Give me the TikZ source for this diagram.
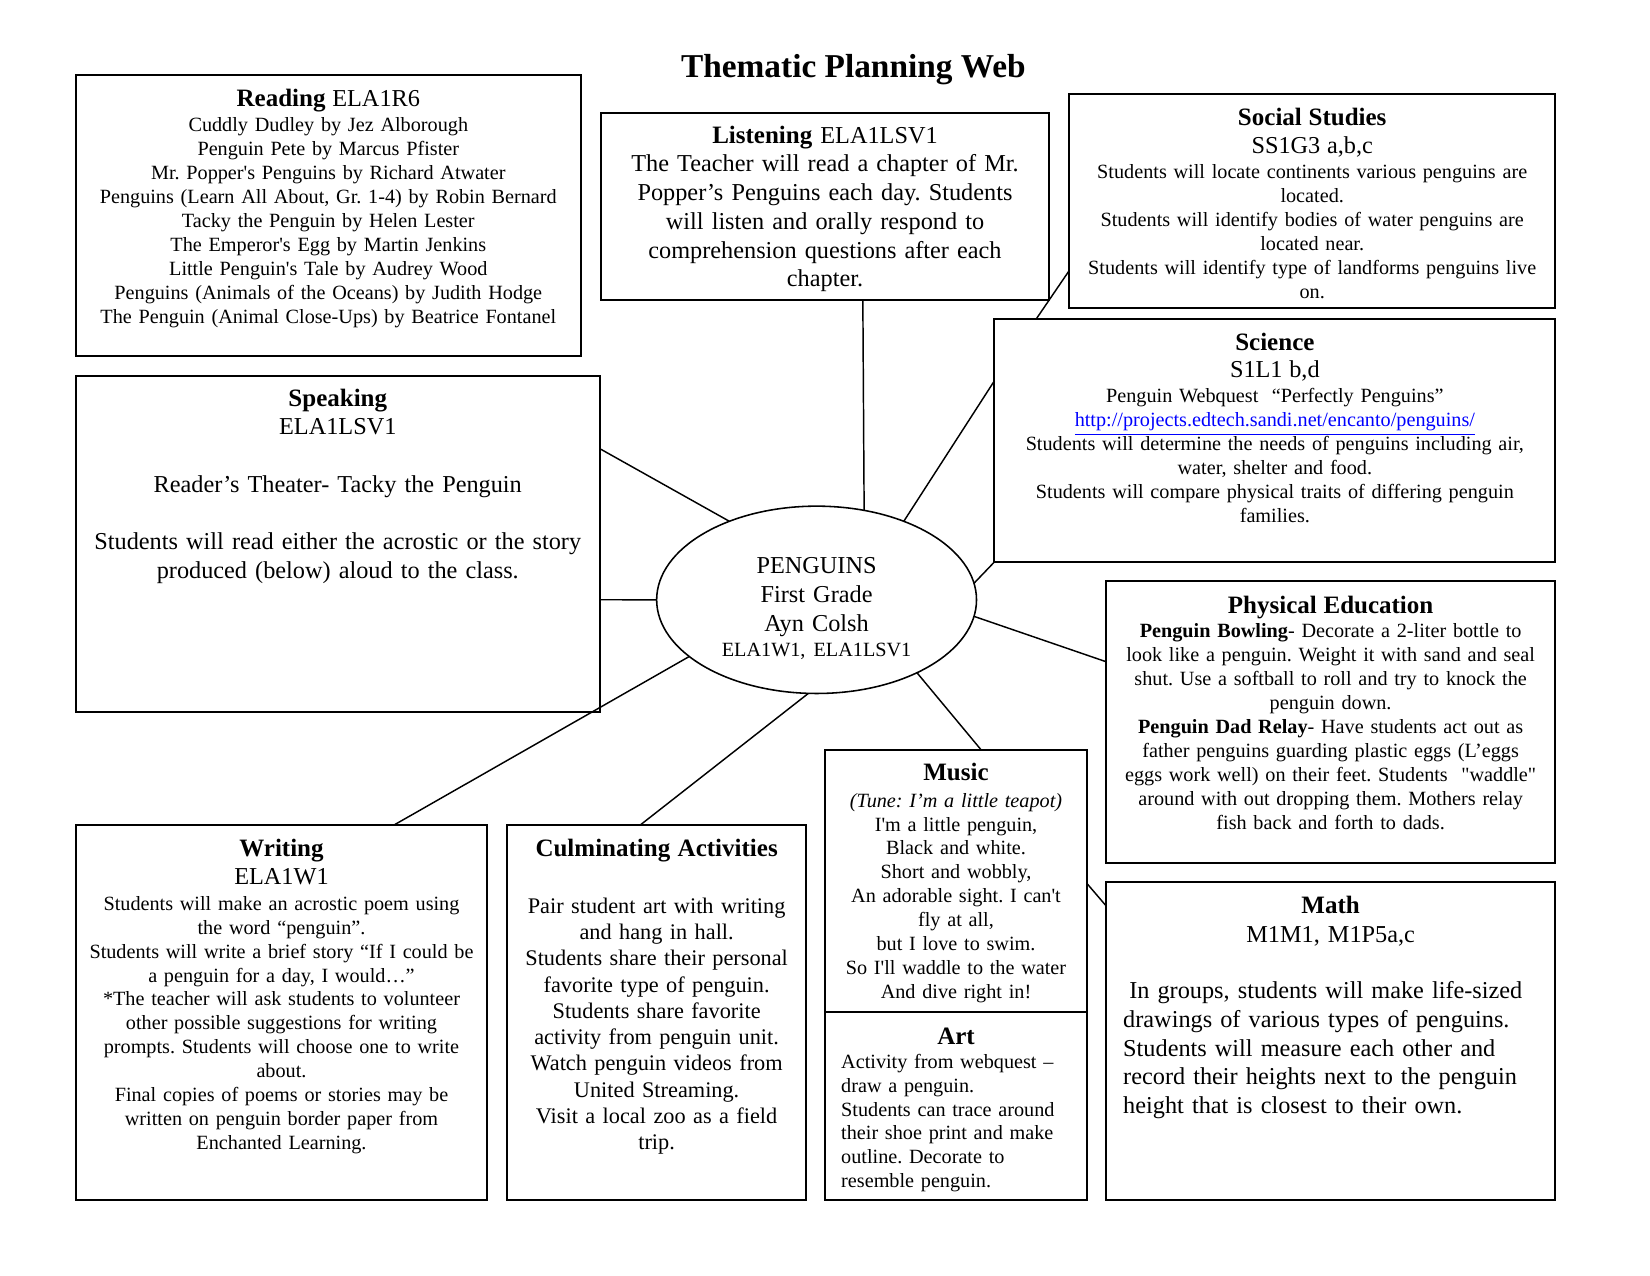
\documentclass[tikz,border=0pt]{standalone}
\usepackage{fontspec}
\setmainfont{Liberation Serif}
\usetikzlibrary{shapes.geometric,fit}

\newcommand{\twelve}{\fontsize{11.65}{13.8}\selectfont}
\newcommand{\headtw}[1]{{\fontsize{12}{13.8}\selectfont\textbf{#1}}}
\newcommand{\sq}{\textquotesingle}

\tikzset{
  box/.style={draw, line width=0.9pt, inner sep=0pt, outer sep=0pt},
  txt/.style={inner sep=0pt, align=center, font={\fontsize{9.7}{11.5}\selectfont\frenchspacing}},
  txtbig/.style={inner sep=0pt, align=center, font={\fontsize{11.65}{13.8}\selectfont\frenchspacing}},
  link/.style={line width=0.7pt},
}

\begin{document}
\begin{tikzpicture}[x=0.505pt, y=-0.505pt]
\fill[white] (0,0) rectangle (1568,1212);
\useasboundingbox (0,0) rectangle (1568,1212);

\node[inner sep=0pt, anchor=base, font={\fontsize{16}{18}\selectfont\bfseries}] (title) at (811,74) {Thematic Planning Web};

% boxes
\node[box, fit={(72,71) (552,338)}] (reading) {};
\node[box, fit={(571,107) (997,285)}] (listening) {};
\node[box, fit={(1016,89) (1478,293)}] (social) {};
\node[box, fit={(945,303) (1478,534)}] (science) {};
\node[box, fit={(72,357) (570,677)}] (speaking) {};
\node[box, fit={(1051,552) (1478,820)}] (pe) {};
\node[box, fit={(1051,838) (1478,1140)}] (math) {};
\node[box, fit={(784,713) (1033,962)}] (music) {};
\node[box, fit={(784,962) (1033,1140)}] (art) {};
\node[box, fit={(72,784) (463,1140)}] (writing) {};
\node[box, fit={(482,784) (766,1140)}] (culm) {};
\node[box, ellipse, line width=0.75pt, minimum width=153.5pt, minimum height=89.9pt] (hub) at (776,570) {};

% texts
\node[txt, text width=237pt, anchor=base] (readtxt) at (312,101) {{\headtw{Reading}\twelve\ ELA1R6}\\[0.6pt]
  Cuddly Dudley by Jez Alborough\\
  Penguin Pete by Marcus Pfister\\
  Mr. Popper\sq s Penguins by Richard Atwater\\
  Penguins (Learn All About, Gr. 1-4) by Robin Bernard\\
  Tacky the Penguin by Helen Lester\\
  The Emperor\sq s Egg by Martin Jenkins\\
  Little Penguin\sq s Tale by Audrey Wood\\
  Penguins (Animals of the Oceans) by Judith Hodge\\
  The Penguin (Animal Close-Ups) by Beatrice Fontanel};

\node[txtbig, text width=210pt, anchor=base] (listentxt) at (784,136) {\headtw{Listening} ELA1LSV1\\
  The Teacher will read a chapter of Mr.\\
  Popper's Penguins each day. Students\\
  will listen and orally respond to\\
  comprehension questions after each\\
  chapter.};

\node[txt, text width=228pt, anchor=base] (socialtxt) at (1247,119) {\headtw{Social Studies}\\[2.1pt]
  {\twelve SS1G3 a,b,c}\\[0.6pt]
  Students will locate continents various penguins are\\
  located.\\
  Students will identify bodies of water penguins are\\
  located near.\\
  Students will identify type of landforms penguins live\\
  on.};

\node[txt, text width=263pt, anchor=base] (sciencetxt) at (1211.5,333) {\headtw{Science}\\[1.6pt]
  {\twelve S1L1 b,d}\\[0.6pt]
  Penguin Webquest\ \ ``Perfectly Penguins''\\
  \textcolor{blue}{\underline{http://projects.edtech.sandi.net/encanto/penguins/}}\\
  Students will determine the needs of penguins including air,\\
  water, shelter and food.\\
  Students will compare physical traits of differing penguin\\
  families.};

\node[txtbig, text width=246pt, anchor=base] (speaktxt) at (321,386) {\headtw{Speaking}\\
  ELA1LSV1\\[13.8pt]
  Reader's Theater- Tacky the Penguin\\[13.8pt]
  Students will read either the acrostic or the story\\
  produced (below) aloud to the class.};

\node[txtbig, text width=131pt, anchor=base] (hubtxt) at (776,545) {PENGUINS\\
  First Grade\\
  Ayn Colsh\\[-1.5pt]
  {\fontsize{9.7}{11.5}\selectfont ELA1W1, ELA1LSV1}};

\node[txt, text width=212pt, anchor=base] (petxt) at (1264.5,583) {\headtw{Physical Education}\\
  \textbf{Penguin Bowling}- Decorate a 2-liter bottle to\\
  look like a penguin. Weight it with sand and seal\\
  shut. Use a softball to roll and try to knock the\\
  penguin down.\\
  \textbf{Penguin Dad Relay}- Have students act out as\\
  father penguins guarding plastic eggs (L'eggs\\
  eggs work well) on their feet. Students\ \ \textquotedbl waddle\textquotedbl\\
  around with out dropping them. Mothers relay\\
  fish back and forth to dads.};

\node[txtbig, text width=202pt, anchor=base] (mathhead) at (1264.5,868) {\headtw{Math}\\
  M1M1, M1P5a,c};
\node[txtbig, align=left, text width=205pt, anchor=base west] (mathtxt) at (1067,949) {\hspace*{0.25em}In groups, students will make life-sized\\
  drawings of various types of penguins.\\
  Students will measure each other and\\
  record their heights next to the penguin\\
  height that is closest to their own.};

\node[txt, text width=121pt, anchor=base] (musictxt) at (908.5,742) {\headtw{Music}\\[1.1pt]
  \textit{(Tune: I'm a little teapot)}\\
  I\sq m a little penguin,\\
  Black and white.\\
  Short and wobbly,\\
  An adorable sight. I can\sq t\\
  fly at all,\\
  but I love to swim.\\
  So I\sq ll waddle to the water\\
  And dive right in!};

\node[txtbig, text width=121pt, anchor=base] (arthead) at (908.5,993) {\headtw{Art}};
\node[txt, align=left, text width=116pt, anchor=base west] (arttxt) at (799,1015) {Activity from webquest --\\
  draw a penguin.\\
  Students can trace around\\
  their shoe print and make\\
  outline. Decorate to\\
  resemble penguin.};

\node[txt, text width=192pt, anchor=base] (writetxt) at (267.5,814) {\headtw{Writing}\\[2.1pt]
  {\twelve ELA1W1}\\[0.6pt]
  Students will make an acrostic poem using\\
  the word ``penguin''.\\
  Students will write a brief story ``If I could be\\
  a penguin for a day, I would\ldots''\\
  {*}The teacher will ask students to volunteer\\
  other possible suggestions for writing\\
  prompts. Students will choose one to write\\
  about.\\
  Final copies of poems or stories may be\\
  written on penguin border paper from\\
  Enchanted Learning.};

\node[txt, font={\fontsize{10.7}{12.6}\selectfont\frenchspacing}, text width=139pt, anchor=base] (culmtxt) at (624,814) {\headtw{Culminating Activities}\\[14.7pt]
  Pair student art with writing\\
  and hang in hall.\\
  Students share their personal\\
  favorite type of penguin.\\
  Students share favorite\\
  activity from penguin unit.\\
  Watch penguin videos from\\
  United Streaming.\\
  Visit a local zoo as a field\\
  trip.};

% spokes
\draw[link] (speaking.20.9) -- (hub.138)
  (speaking.-12) -- (hub.west)
  (listening.-68) -- (hub.62.7)
  (science.168.65) -- (hub.42)
  (social.196.4) -- (science.153.5)
  (science.south west) -- (hub.6.8)
  (hub.-6.8) -- (pe.165.3)
  (hub.-36.6) -- (music.79.8)
  (hub.-95.8) -- (culm.95.8)
  (hub.204.8) -- (writing.59.1)
  (music.-1.6) -- (math.149.7);
\end{tikzpicture}
\end{document}
